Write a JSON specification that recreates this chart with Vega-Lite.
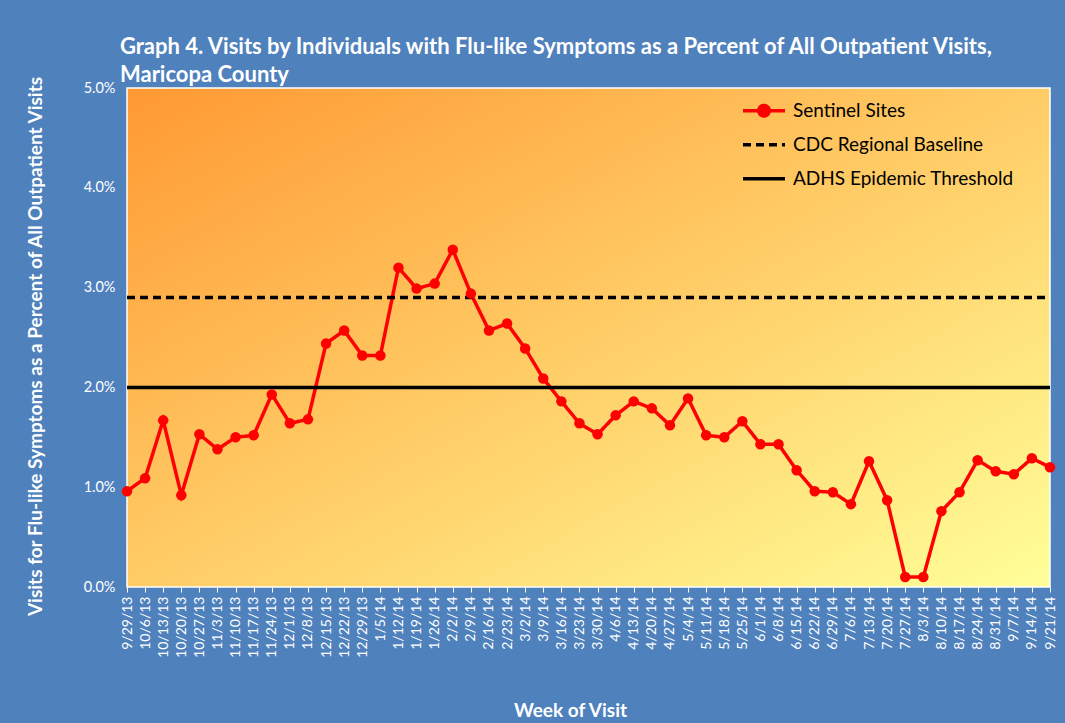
{
  "$schema": "https://vega.github.io/schema/vega-lite/v6.json",
  "width": 923,
  "height": 499,
  "autosize": {"type": "none"},
  "padding": {"left": 127, "top": 88, "right": 15, "bottom": 136},
  "background": "#4F81BD",
  "config": {
    "font": "Lato",
    "view": {
      "stroke": "#FFFFFF",
      "strokeWidth": 1.5,
      "fill": {
        "gradient": "linear",
        "x1": 0, "y1": 0, "x2": 1, "y2": 1,
        "stops": [
          {"offset": 0, "color": "#FF9933"},
          {"offset": 0.5, "color": "#FFCC66"},
          {"offset": 1, "color": "#FFFF99"}
        ]
      }
    }
  },
  "title": {
    "text": ["Graph 4. Visits by Individuals  with Flu-like Symptoms as a Percent of All Outpatient  Visits,", "Maricopa  County"],
    "anchor": "start",
    "frame": "group",
    "dx": -7,
    "offset": -12,
    "font": "Lato",
    "fontSize": 22,
    "fontWeight": "bold",
    "color": "#FFFFFF",
    "lineHeight": 28
  },
  "data": {
    "values": [
      {"week": "9/29/13", "Sentinel Sites": 0.96, "CDC Regional Baseline": 2.9, "ADHS Epidemic Threshold": 2.0},
      {"week": "10/6/13", "Sentinel Sites": 1.09, "CDC Regional Baseline": 2.9, "ADHS Epidemic Threshold": 2.0},
      {"week": "10/13/13", "Sentinel Sites": 1.67, "CDC Regional Baseline": 2.9, "ADHS Epidemic Threshold": 2.0},
      {"week": "10/20/13", "Sentinel Sites": 0.92, "CDC Regional Baseline": 2.9, "ADHS Epidemic Threshold": 2.0},
      {"week": "10/27/13", "Sentinel Sites": 1.53, "CDC Regional Baseline": 2.9, "ADHS Epidemic Threshold": 2.0},
      {"week": "11/3/13", "Sentinel Sites": 1.38, "CDC Regional Baseline": 2.9, "ADHS Epidemic Threshold": 2.0},
      {"week": "11/10/13", "Sentinel Sites": 1.50, "CDC Regional Baseline": 2.9, "ADHS Epidemic Threshold": 2.0},
      {"week": "11/17/13", "Sentinel Sites": 1.52, "CDC Regional Baseline": 2.9, "ADHS Epidemic Threshold": 2.0},
      {"week": "11/24/13", "Sentinel Sites": 1.93, "CDC Regional Baseline": 2.9, "ADHS Epidemic Threshold": 2.0},
      {"week": "12/1/13", "Sentinel Sites": 1.64, "CDC Regional Baseline": 2.9, "ADHS Epidemic Threshold": 2.0},
      {"week": "12/8/13", "Sentinel Sites": 1.68, "CDC Regional Baseline": 2.9, "ADHS Epidemic Threshold": 2.0},
      {"week": "12/15/13", "Sentinel Sites": 2.44, "CDC Regional Baseline": 2.9, "ADHS Epidemic Threshold": 2.0},
      {"week": "12/22/13", "Sentinel Sites": 2.57, "CDC Regional Baseline": 2.9, "ADHS Epidemic Threshold": 2.0},
      {"week": "12/29/13", "Sentinel Sites": 2.32, "CDC Regional Baseline": 2.9, "ADHS Epidemic Threshold": 2.0},
      {"week": "1/5/14", "Sentinel Sites": 2.32, "CDC Regional Baseline": 2.9, "ADHS Epidemic Threshold": 2.0},
      {"week": "1/12/14", "Sentinel Sites": 3.20, "CDC Regional Baseline": 2.9, "ADHS Epidemic Threshold": 2.0},
      {"week": "1/19/14", "Sentinel Sites": 2.99, "CDC Regional Baseline": 2.9, "ADHS Epidemic Threshold": 2.0},
      {"week": "1/26/14", "Sentinel Sites": 3.04, "CDC Regional Baseline": 2.9, "ADHS Epidemic Threshold": 2.0},
      {"week": "2/2/14", "Sentinel Sites": 3.38, "CDC Regional Baseline": 2.9, "ADHS Epidemic Threshold": 2.0},
      {"week": "2/9/14", "Sentinel Sites": 2.94, "CDC Regional Baseline": 2.9, "ADHS Epidemic Threshold": 2.0},
      {"week": "2/16/14", "Sentinel Sites": 2.57, "CDC Regional Baseline": 2.9, "ADHS Epidemic Threshold": 2.0},
      {"week": "2/23/14", "Sentinel Sites": 2.64, "CDC Regional Baseline": 2.9, "ADHS Epidemic Threshold": 2.0},
      {"week": "3/2/14", "Sentinel Sites": 2.39, "CDC Regional Baseline": 2.9, "ADHS Epidemic Threshold": 2.0},
      {"week": "3/9/14", "Sentinel Sites": 2.09, "CDC Regional Baseline": 2.9, "ADHS Epidemic Threshold": 2.0},
      {"week": "3/16/14", "Sentinel Sites": 1.86, "CDC Regional Baseline": 2.9, "ADHS Epidemic Threshold": 2.0},
      {"week": "3/23/14", "Sentinel Sites": 1.64, "CDC Regional Baseline": 2.9, "ADHS Epidemic Threshold": 2.0},
      {"week": "3/30/14", "Sentinel Sites": 1.53, "CDC Regional Baseline": 2.9, "ADHS Epidemic Threshold": 2.0},
      {"week": "4/6/14", "Sentinel Sites": 1.72, "CDC Regional Baseline": 2.9, "ADHS Epidemic Threshold": 2.0},
      {"week": "4/13/14", "Sentinel Sites": 1.86, "CDC Regional Baseline": 2.9, "ADHS Epidemic Threshold": 2.0},
      {"week": "4/20/14", "Sentinel Sites": 1.79, "CDC Regional Baseline": 2.9, "ADHS Epidemic Threshold": 2.0},
      {"week": "4/27/14", "Sentinel Sites": 1.62, "CDC Regional Baseline": 2.9, "ADHS Epidemic Threshold": 2.0},
      {"week": "5/4/14", "Sentinel Sites": 1.89, "CDC Regional Baseline": 2.9, "ADHS Epidemic Threshold": 2.0},
      {"week": "5/11/14", "Sentinel Sites": 1.52, "CDC Regional Baseline": 2.9, "ADHS Epidemic Threshold": 2.0},
      {"week": "5/18/14", "Sentinel Sites": 1.50, "CDC Regional Baseline": 2.9, "ADHS Epidemic Threshold": 2.0},
      {"week": "5/25/14", "Sentinel Sites": 1.66, "CDC Regional Baseline": 2.9, "ADHS Epidemic Threshold": 2.0},
      {"week": "6/1/14", "Sentinel Sites": 1.43, "CDC Regional Baseline": 2.9, "ADHS Epidemic Threshold": 2.0},
      {"week": "6/8/14", "Sentinel Sites": 1.43, "CDC Regional Baseline": 2.9, "ADHS Epidemic Threshold": 2.0},
      {"week": "6/15/14", "Sentinel Sites": 1.17, "CDC Regional Baseline": 2.9, "ADHS Epidemic Threshold": 2.0},
      {"week": "6/22/14", "Sentinel Sites": 0.96, "CDC Regional Baseline": 2.9, "ADHS Epidemic Threshold": 2.0},
      {"week": "6/29/14", "Sentinel Sites": 0.95, "CDC Regional Baseline": 2.9, "ADHS Epidemic Threshold": 2.0},
      {"week": "7/6/14", "Sentinel Sites": 0.83, "CDC Regional Baseline": 2.9, "ADHS Epidemic Threshold": 2.0},
      {"week": "7/13/14", "Sentinel Sites": 1.26, "CDC Regional Baseline": 2.9, "ADHS Epidemic Threshold": 2.0},
      {"week": "7/20/14", "Sentinel Sites": 0.87, "CDC Regional Baseline": 2.9, "ADHS Epidemic Threshold": 2.0},
      {"week": "7/27/14", "Sentinel Sites": 0.10, "CDC Regional Baseline": 2.9, "ADHS Epidemic Threshold": 2.0},
      {"week": "8/3/14", "Sentinel Sites": 0.10, "CDC Regional Baseline": 2.9, "ADHS Epidemic Threshold": 2.0},
      {"week": "8/10/14", "Sentinel Sites": 0.76, "CDC Regional Baseline": 2.9, "ADHS Epidemic Threshold": 2.0},
      {"week": "8/17/14", "Sentinel Sites": 0.95, "CDC Regional Baseline": 2.9, "ADHS Epidemic Threshold": 2.0},
      {"week": "8/24/14", "Sentinel Sites": 1.27, "CDC Regional Baseline": 2.9, "ADHS Epidemic Threshold": 2.0},
      {"week": "8/31/14", "Sentinel Sites": 1.16, "CDC Regional Baseline": 2.9, "ADHS Epidemic Threshold": 2.0},
      {"week": "9/7/14", "Sentinel Sites": 1.13, "CDC Regional Baseline": 2.9, "ADHS Epidemic Threshold": 2.0},
      {"week": "9/14/14", "Sentinel Sites": 1.29, "CDC Regional Baseline": 2.9, "ADHS Epidemic Threshold": 2.0},
      {"week": "9/21/14", "Sentinel Sites": 1.20, "CDC Regional Baseline": 2.9, "ADHS Epidemic Threshold": 2.0}
    ]
  },
  "transform": [
    {"fold": ["Sentinel Sites", "CDC Regional Baseline", "ADHS Epidemic Threshold"], "as": ["series", "pct"]}
  ],
  "encoding": {
    "x": {
      "field": "week",
      "type": "nominal",
      "sort": null,
      "scale": {"type": "point", "padding": 0},
      "axis": {
        "title": "Week of Visit",
        "titleColor": "#FFFFFF",
        "titleFont": "Lato",
        "titleFontSize": 19,
        "titleFontWeight": "bold",
        "titleX": 443,
        "titleY": 129,
        "titleBaseline": "alphabetic",
        "titleAnchor": "middle",
        "labelAngle": -90,
        "labelColor": "#FFFFFF",
        "labelFont": "Lato",
        "labelFontSize": 14,
        "labelPadding": 4,
        "tickColor": "#FFFFFF",
        "tickSize": 5,
        "domain": false,
        "grid": false
      }
    },
    "y": {
      "field": "pct",
      "type": "quantitative",
      "scale": {"domain": [0, 5], "nice": false, "zero": true},
      "axis": {
        "title": "Visits for Flu-like Symptoms as a Percent of All Outpatient Visits",
        "titleColor": "#FFFFFF",
        "titleFont": "Lato",
        "titleFontSize": 19,
        "titleFontWeight": "bold",
        "titleX": -82,
        "titleY": 258,
        "titleAngle": -90,
        "titleBaseline": "bottom",
        "titleAnchor": "middle",
        "values": [0, 1, 2, 3, 4, 5],
        "labelExpr": "format(datum.value, '.1f') + '%'",
        "labelColor": "#FFFFFF",
        "labelFont": "Lato",
        "labelFontSize": 14.5,
        "labelPadding": 12,
        "ticks": false,
        "domain": false,
        "grid": false
      }
    }
  },
  "layer": [
    {
      "mark": {"type": "line", "strokeWidth": 3.5},
      "encoding": {
        "color": {
          "field": "series",
          "type": "nominal",
          "scale": {
            "domain": ["Sentinel Sites", "CDC Regional Baseline", "ADHS Epidemic Threshold"],
            "range": ["#FF0000", "#000000", "#000000"]
          },
          "legend": {
            "title": null,
            "orient": "none",
            "legendX": 614,
            "legendY": 6,
            "labelFont": "Lato",
            "labelFontSize": 19,
            "labelLimit": 0,
            "labelColor": "#000000",
            "labelOffset": 6,
            "symbolSize": 1764,
            "symbolStrokeWidth": 3.5,
            "clipHeight": 33.5,
            "rowPadding": 0,
            "encode": {
              "symbols": {
                "update": {
                  "shape": {"signal": "datum.value === 'Sentinel Sites' ? 'M-1,0H1M0.25,0A0.25,0.25 0 1,1 -0.25,0A0.25,0.25 0 1,1 0.25,0Z' : 'stroke'"},
                  "fill": {"signal": "datum.value === 'Sentinel Sites' ? '#FF0000' : 'transparent'"}
                }
              }
            }
          }
        },
        "strokeDash": {
          "field": "series",
          "type": "nominal",
          "scale": {
            "domain": ["Sentinel Sites", "CDC Regional Baseline", "ADHS Epidemic Threshold"],
            "range": [[1, 0], [8, 5], [1, 0]]
          },
          "legend": {
            "title": null,
            "orient": "none",
            "legendX": 614,
            "legendY": 6,
            "labelFont": "Lato",
            "labelFontSize": 19,
            "labelLimit": 0,
            "labelColor": "#000000",
            "labelOffset": 6,
            "symbolSize": 1764,
            "symbolStrokeWidth": 3.5,
            "clipHeight": 33.5,
            "rowPadding": 0
          }
        }
      }
    },
    {
      "transform": [{"filter": "datum.series === 'Sentinel Sites'"}],
      "mark": {"type": "point", "filled": true, "color": "#FF0000", "opacity": 1, "size": 110}
    }
  ]
}
